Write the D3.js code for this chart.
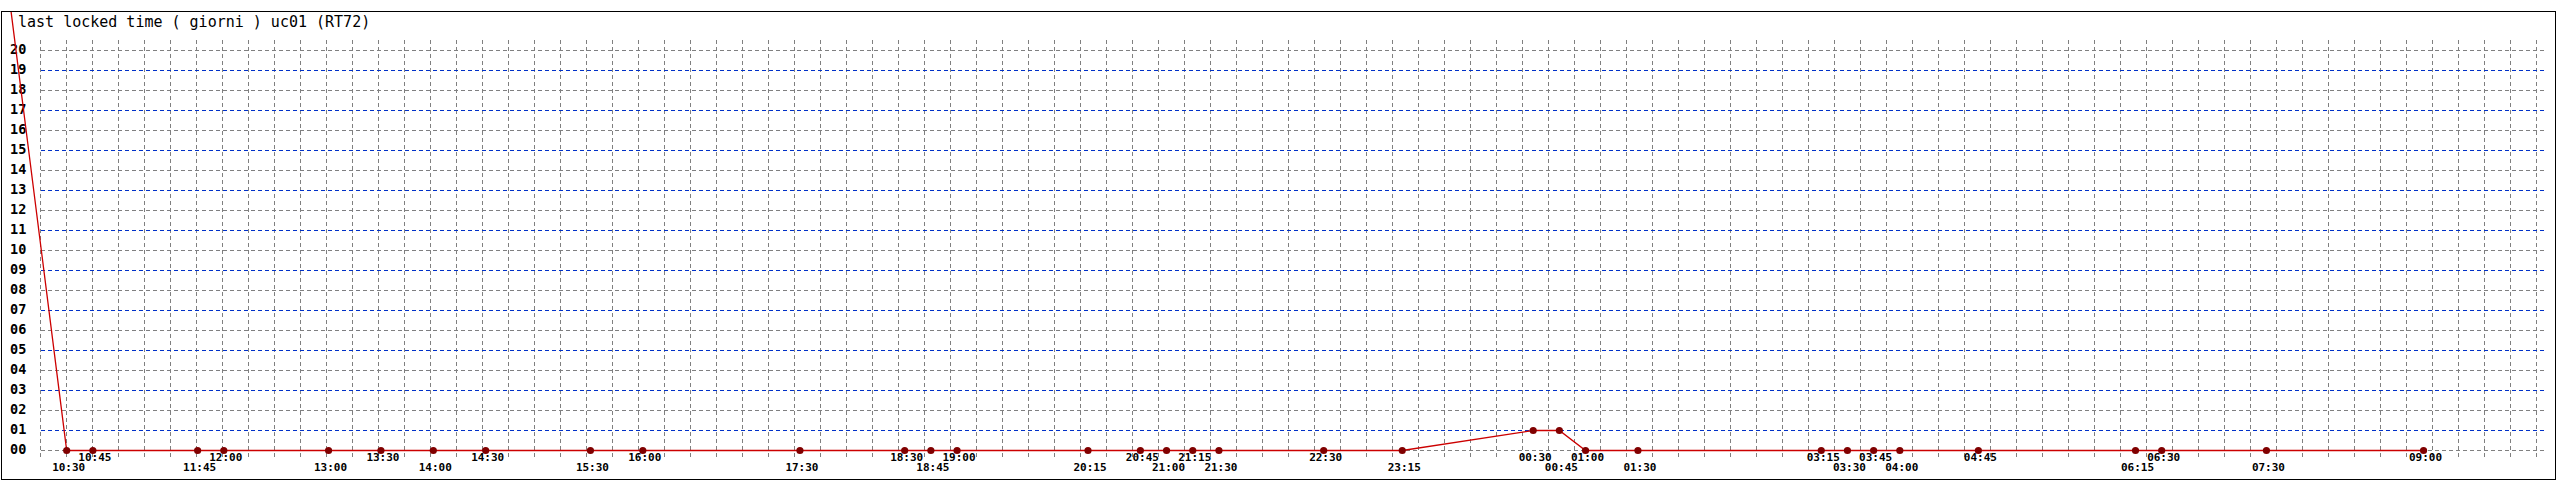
<!DOCTYPE html>
<html>
<head>
<meta charset="utf-8">
<script src="https://cdn.jsdelivr.net/npm/d3@7"></script>
<style>
  html, body { margin: 0; padding: 0; background: #fff; }
  svg { display: block; }
</style>
</head>
<body>
<svg id="chart" width="2560" height="480"></svg>
<script>
// ---- data ----
const title = "last locked time ( giorni ) uc01 (RT72)";
const times = ["10:30","10:45","11:45","12:00","13:00","13:30","14:00","14:30","15:30","16:00",
  "17:30","18:30","18:45","19:00","20:15","20:45","21:00","21:15","21:30","22:30","23:15",
  "00:30","00:45","01:00","01:30","03:15","03:30","03:45","04:00","04:45","06:15","06:30","07:30","09:00"];
const values = [0,0,0,0,0,0,0,0,0,0,
  0,0,0,0,0,0,0,0,0,0,0,
  1,1,0,0,0,0,0,0,0,0,0,0,0];
// previous sample, before the visible window (off the chart)
const prevTime = "09:45";
const prevValue = 31;
const yTicks = d3.range(0, 21);
const windowStart = "10:15";
const windowHours = 24;

// ---- helpers ----
function at(hm, day) {
  const [h, m] = hm.split(":").map(Number);
  return new Date(2000, 0, 1 + day, h, m);
}
let day = 0, last = -1;
const pts = times.map((t, i) => {
  const [h, m] = t.split(":").map(Number);
  const mins = h * 60 + m;
  if (last >= 0 && mins < last) day++;
  last = mins;
  return { t: at(t, day), label: t, v: values[i], i };
});
const prev = { t: at(prevTime, 0), v: prevValue };
const t0 = at(windowStart, 0);
const t1 = new Date(t0.getTime() + windowHours * 3600e3);

// ---- scales ----
const x = d3.scaleTime().domain([t0, t1]).range([40.5, 2554.5]);
const y = d3.scaleLinear().domain([0, 20]).range([450.5, 50.5]);

const svg = d3.select("#chart");

// frame
svg.append("rect").attr("x", 1.5).attr("y", 11.5).attr("width", 2554).attr("height", 468)
  .attr("fill", "#fff").attr("stroke", "#000").attr("stroke-width", 1)
  .attr("shape-rendering", "crispEdges");

// clip
svg.append("clipPath").attr("id", "clip").append("rect")
  .attr("x", 2).attr("y", 12).attr("width", 2553).attr("height", 467);

// vertical grid (pixel grid, every 26 px)
const gx = d3.range(0, 97).map(i => 40.5 + i * 26);
svg.append("g").attr("shape-rendering", "crispEdges")
  .selectAll("line").data(gx).join("line")
  .attr("x1", d => d).attr("x2", d => d).attr("y1", 40).attr("y2", 457)
  .attr("stroke", "#808080").attr("stroke-width", 1).attr("stroke-dasharray", "4,3");

// horizontal grid
svg.append("g").attr("shape-rendering", "crispEdges")
  .selectAll("line").data(yTicks).join("line")
  .attr("x1", 40.5).attr("x2", 2547).attr("y1", d => y(d)).attr("y2", d => y(d))
  .attr("stroke", d => d % 2 ? "#0030c8" : "#808080")
  .attr("stroke-width", 1).attr("stroke-dasharray", "4,3");

// y labels
svg.append("g").selectAll("text").data(yTicks).join("text")
  .attr("x", 10).attr("y", d => y(d) + 3.5)
  .attr("font-family", "'DejaVu Sans Mono', monospace").attr("font-weight", "bold")
  .attr("font-size", "13.5px").attr("fill", "#000")
  .text(d => d3.format("02d")(d));

// title
svg.append("text").attr("x", 18).attr("y", 27)
  .attr("font-family", "'DejaVu Sans Mono', monospace").attr("font-size", "15px")
  .attr("fill", "#000").text(title);

// line
const line = d3.line().x(d => x(d.t)).y(d => y(d.v));
svg.append("path").datum([prev, ...pts]).attr("d", line)
  .attr("clip-path", "url(#clip)")
  .attr("fill", "none").attr("stroke", "#cc0000").attr("stroke-width", 1.3);

// dots
svg.append("g").selectAll("circle").data(pts).join("circle")
  .attr("cx", d => x(d.t)).attr("cy", d => y(d.v)).attr("r", 3.6)
  .attr("fill", "#800000");

// x labels (alternating rows)
svg.append("g").selectAll("text").data(pts).join("text")
  .attr("x", d => x(d.t) + 2)
  .attr("y", d => d.i % 2 ? 461 : 471)
  .attr("text-anchor", "middle")
  .attr("font-family", "'DejaVu Sans Mono', monospace").attr("font-weight", "bold")
  .attr("font-size", "11px").attr("fill", "#000")
  .text(d => d.label);
</script>
</body>
</html>
